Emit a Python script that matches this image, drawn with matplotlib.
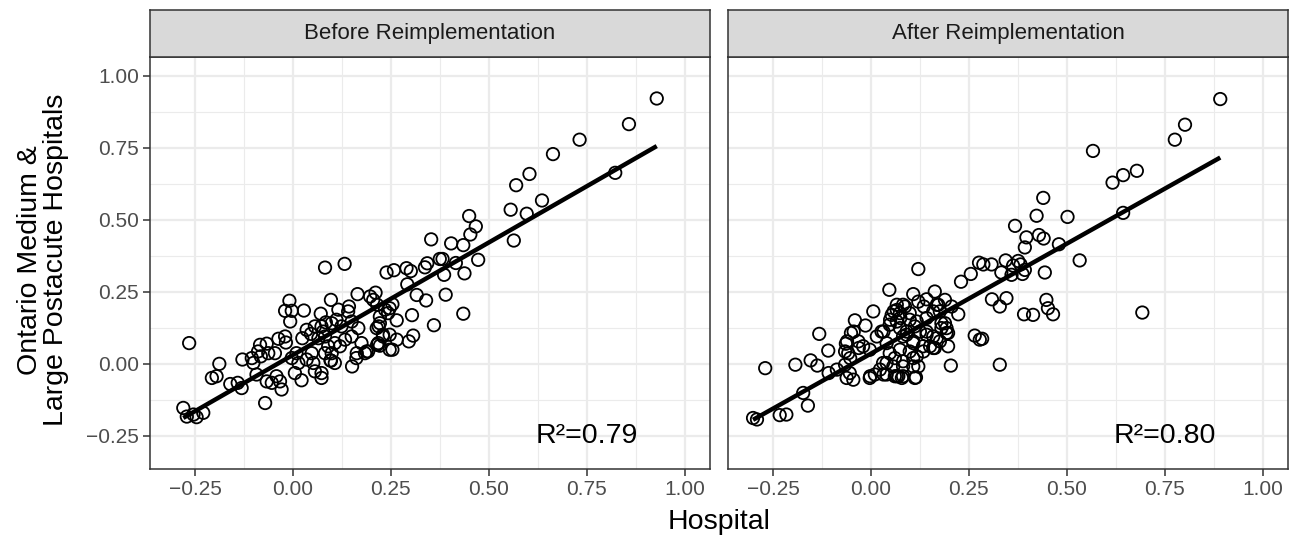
import numpy as np
import matplotlib
matplotlib.use("Agg")
import matplotlib.pyplot as plt
from matplotlib.ticker import MultipleLocator

plt.rcParams['font.family'] = ['Liberation Sans', 'DejaVu Sans']

panel_titles = ["Before Reimplementation", "After Reimplementation"]
r2_labels = ["R²=0.79", "R²=0.80"]
tick_vals = [-0.25, 0.0, 0.25, 0.50, 0.75, 1.00]
tick_labels = ["\u22120.25", "0.00", "0.25", "0.50", "0.75", "1.00"]

# before reimplementation
before_x = [0.929, 0.858, 0.732, 0.664, 0.604, 0.570, 0.823, 0.636, 0.597, 0.556,
            0.564, 0.450, 0.467, 0.453, 0.473, 0.435, 0.404, 0.353, 0.438, 0.386,
            0.416, 0.375, 0.382, 0.343, 0.337, 0.290, 0.301, 0.258, 0.239, 0.132,
            0.082,
            0.292, 0.316, 0.340, 0.390, 0.435, 0.360, 0.304, 0.265, 0.219, 0.230,
            0.247, 0.265, 0.307, 0.296, 0.247, 0.254, 0.188, 0.215, 0.222, 0.235,
            0.243, 0.222, 0.247, 0.254, 0.215,
            0.165, 0.097, -0.009, -0.020, -0.003, 0.028, -0.007, 0.071, 0.116, 0.143,
            0.141, 0.197, 0.211, 0.205, 0.084, 0.073, 0.099, 0.077, 0.111, -0.037,
            -0.020, -0.018, 0.024, 0.046, -0.084, -0.067, -0.089, -0.063, -0.046, -0.082,
            -0.129, -0.105, -0.101, -0.141, -0.131, -0.071, -0.093, -0.067, -0.042, -0.033,
            -0.029, -0.054, 0.022, 0.052, 0.056, 0.073, 0.073, 0.097, 0.151, 0.005,
            0.014, 0.035, 0.133, 0.150, 0.167, 0.175, 0.184, 0.192, 0.218, 0.214,
            0.222, 0.230, 0.120, 0.107, 0.090, 0.065, 0.048, 0.082, 0.099, 0.124,
            0.082, 0.056, 0.035, 0.150, 0.163, 0.107, -0.003, 0.009, 0.096, 0.162,
            -0.265, -0.280, -0.254, -0.229, -0.271, -0.246, -0.188, -0.207, -0.195, -0.160]
before_y = [0.921, 0.832, 0.778, 0.728, 0.659, 0.620, 0.663, 0.567, 0.521, 0.535,
            0.428, 0.513, 0.477, 0.449, 0.361, 0.412, 0.418, 0.432, 0.314, 0.309,
            0.350, 0.364, 0.364, 0.349, 0.335, 0.332, 0.322, 0.325, 0.317, 0.347,
            0.334,
            0.276, 0.239, 0.220, 0.240, 0.174, 0.134, 0.169, 0.151, 0.130, 0.101,
            0.101, 0.084, 0.098, 0.078, 0.049, 0.049, 0.043, 0.066, 0.063, 0.188,
            0.176, 0.164, 0.193, 0.207, 0.205,
            0.242, 0.222, 0.219, 0.184, 0.184, 0.185, 0.147, 0.174, 0.188, 0.199,
            0.182, 0.234, 0.247, 0.222, 0.144, 0.130, 0.141, 0.112, 0.153, 0.087,
            0.095, 0.074, 0.089, 0.104, 0.066, 0.070, 0.043, 0.037, 0.037, 0.026,
            0.015, 0.020, 0.003, -0.066, -0.084, -0.136, -0.037, -0.061, -0.043, -0.061,
            -0.089, -0.066, -0.057, 0.003, -0.026, -0.032, -0.049, 0.011, -0.009, -0.032,
            0.003, 0.015, 0.084, 0.095, 0.124, 0.072, 0.037, 0.043, 0.072, 0.124,
            0.141, 0.095, 0.061, 0.072, 0.061, 0.089, 0.037, 0.037, 0.037, 0.130,
            0.095, 0.130, 0.118, 0.147, 0.037, 0.003, 0.020, 0.037, 0.012, 0.020,
            0.072, -0.153, -0.176, -0.170, -0.183, -0.185, 0.000, -0.049, -0.043, -0.070]

# after reimplementation
after_x = [0.892, 0.802, 0.776, 0.567, 0.679, 0.644, 0.617, 0.644, 0.440, 0.423,
           0.502, 0.368, 0.429, 0.441, 0.397, 0.393, 0.480, 0.533, 0.121, 0.276,
           0.287, 0.308, 0.255, 0.230, 0.344, 0.376, 0.363, 0.382, 0.333, 0.359,
           0.387, 0.393, 0.444, 0.693,
           0.047, 0.108, 0.163, 0.189, 0.223, 0.309, 0.329, 0.346, 0.391, 0.414,
           0.448, 0.452, 0.465, 0.265, 0.278, 0.284, 0.204, 0.329,
           0.066, 0.082, 0.099, 0.117, 0.142, 0.159, 0.172, 0.189, 0.197, 0.168,
           0.151, 0.134, 0.108, 0.082, 0.061, 0.040, 0.032, 0.061, 0.082, 0.115,
           0.121, 0.108, 0.091, 0.074, 0.048, 0.032, 0.142, 0.180, 0.159, 0.197,
           0.121, 0.142, 0.135, 0.168, 0.176, 0.206, 0.006, -0.041, -0.014, -0.051,
           -0.132, -0.109, -0.154, -0.137,
           -0.064, -0.058, -0.066, -0.054, -0.062, -0.045, -0.032, -0.020, -0.003, 0.015,
           0.027, 0.040, 0.048, 0.031, 0.023, 0.010, -0.003, 0.040, 0.057, 0.074,
           0.082, 0.066, 0.053, 0.074, 0.087, 0.099, 0.112, 0.091, 0.125, 0.142,
           0.159, 0.176, 0.193, 0.163, 0.133, 0.108, 0.099, 0.117, 0.108, 0.082,
           0.070, 0.112, 0.180, 0.193,
           -0.270, -0.301, -0.291, -0.233, -0.216, -0.173, -0.161, -0.193, -0.108, -0.087,
           -0.061, -0.044, -0.066, -0.053, -0.031, -0.002, 0.066, 0.079, 0.058, 0.066,
           0.049, 0.075]
after_y = [0.919, 0.830, 0.778, 0.739, 0.670, 0.655, 0.629, 0.524, 0.576, 0.514,
           0.510, 0.479, 0.447, 0.435, 0.439, 0.404, 0.415, 0.359, 0.329, 0.351,
           0.345, 0.345, 0.312, 0.285, 0.359, 0.357, 0.341, 0.345, 0.317, 0.309,
           0.312, 0.326, 0.317, 0.178,
           0.257, 0.242, 0.251, 0.222, 0.172, 0.224, 0.199, 0.228, 0.172, 0.170,
           0.222, 0.193, 0.172, 0.098, 0.084, 0.087, -0.006, -0.003,
           0.187, 0.205, 0.176, 0.147, 0.159, 0.182, 0.205, 0.141, 0.107, 0.089,
           0.061, 0.043, 0.020, 0.009, 0.020, 0.003, -0.037, -0.043, -0.043, -0.047,
           -0.009, 0.078, 0.101, 0.124, 0.136, 0.112, 0.112, 0.124, 0.055, 0.061,
           0.216, 0.224, 0.199, 0.205, 0.182, 0.199, 0.182, 0.151, 0.133, 0.107,
           0.104, 0.046, 0.012, -0.006,
           0.070, 0.037, -0.003, -0.032, -0.049, -0.055, 0.078, 0.061, 0.049, 0.095,
           0.112, 0.072, 0.037, 0.003, -0.020, -0.037, -0.049, -0.037, -0.009, 0.049,
           0.095, 0.147, 0.170, 0.176, 0.199, 0.153, 0.130, 0.112, 0.112, 0.101,
           0.095, 0.078, 0.107, 0.055, 0.061, 0.072, 0.043, 0.026, -0.009, -0.009,
           -0.043, -0.049, 0.141, 0.124,
           -0.015, -0.188, -0.193, -0.178, -0.176, -0.101, -0.145, -0.003, -0.032, -0.020,
           0.078, 0.112, 0.043, 0.020, 0.055, -0.043, -0.043, -0.049, 0.182, 0.205,
           0.153, 0.159]

panels = [(before_x, before_y), (after_x, after_y)]

W, H = 1294, 540
fig = plt.figure(figsize=(W / 100, H / 100), dpi=100)
fig.patch.set_facecolor("white")

lefts = [150, 728]
pw = 560
top, bottom = 57, 469
strip_top = 10

for i, (xs, ys) in enumerate(panels):
    ax = fig.add_axes([lefts[i] / W, 1 - bottom / H, pw / W, (bottom - top) / H])
    xs = np.array(xs)
    ys = np.array(ys)
    ax.scatter(xs, ys, s=80, facecolors="none", edgecolors="black", linewidths=1.3, zorder=3)

    # lm fit like geom_smooth(method = "lm")
    k, b = np.polyfit(xs, ys, 1)
    lx = np.array([xs.min(), xs.max()])
    ax.plot(lx, k * lx + b, color="black", lw=3.2, solid_capstyle="butt", zorder=4)

    ax.text(0.75, -0.25, r2_labels[i], fontsize=20.5, ha="center", va="center", zorder=5)

    ax.set_xlim(-0.365, 1.065)
    ax.set_ylim(-0.365, 1.065)
    ax.set_xticks(tick_vals)
    ax.set_xticklabels(tick_labels)
    ax.set_yticks(tick_vals)
    ax.set_yticklabels(tick_labels if i == 0 else [])
    ax.xaxis.set_minor_locator(MultipleLocator(0.125))
    ax.yaxis.set_minor_locator(MultipleLocator(0.125))
    ax.grid(which="major", color="#EBEBEB", lw=1.6)
    ax.grid(which="minor", color="#EBEBEB", lw=0.8)
    ax.set_axisbelow(True)
    ax.tick_params(which="major", length=5, width=1.1, color="#333333",
                   labelsize=15, labelcolor="#4D4D4D", pad=3)
    ax.tick_params(which="minor", length=0)
    if i == 1:
        ax.tick_params(axis="y", which="major", length=0)
    for sp in ax.spines.values():
        sp.set_color("#333333")
        sp.set_linewidth(1.1)

    # facet strip
    sax = fig.add_axes([lefts[i] / W, 1 - top / H, pw / W, (top - strip_top) / H])
    sax.set_facecolor("#D9D9D9")
    sax.set_xticks([])
    sax.set_yticks([])
    for sp in sax.spines.values():
        sp.set_color("#333333")
        sp.set_linewidth(1.1)
    sax.text(0.5, 0.5, panel_titles[i], fontsize=16, color="#1A1A1A",
             ha="center", va="center", transform=sax.transAxes)

fig.text((150 + 1288) / 2 / W, 1 - 522 / H, "Hospital", fontsize=20.5,
         ha="center", va="center")
fig.text(43 / W, 1 - 260 / H, "Ontario Medium &\nLarge Postacute Hospitals",
         fontsize=20.5, rotation=90, ha="center", va="center", linespacing=1.0)

fig.savefig("out.png", dpi=100)
